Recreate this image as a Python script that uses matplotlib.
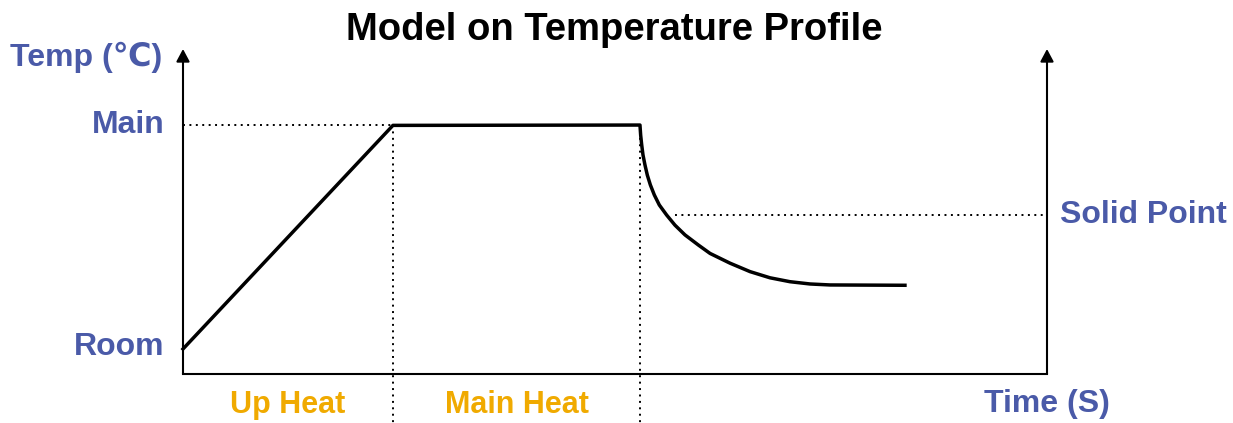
import numpy as np
import matplotlib
matplotlib.use("Agg")
import matplotlib.pyplot as plt

plt.rcParams['font.family'] = ['Liberation Sans', 'DejaVu Sans']

# profile (time: 0..100 axis units, temp: 0..100 axis units)
TIME = [0.0, 24.3, 52.89, 52.97, 53.09, 53.24, 53.47, 53.74, 54.09, 54.55, 55.13, 55.98,
        56.94, 58.10, 59.64, 61.00, 63.31, 65.63, 67.94, 70.25, 72.57, 74.88, 83.56]
TEMP = [7.7, 76.5, 76.6, 73.5, 70.5, 67.4, 64.3, 61.2, 58.2, 55.1, 52.0, 48.9,
        45.8, 42.8, 39.7, 37.1, 34.1, 31.5, 29.6, 28.4, 27.7, 27.4, 27.3]

T_ROOM, T_MAIN, T_SOLID = 7.7, 76.5, 48.9
PHASE_EDGES = [0.0, 24.3, 52.9]
PHASE_NAMES = ["Up Heat", "Main Heat"]
SOLID_START = 56.9

BLUE = "#4a5aa8"
ORANGE = "#f0aa00"
DOT = (0, (1, 2.3))

fig = plt.figure(figsize=(12.33, 4.23), dpi=100)
ax = fig.add_axes([183 / 1233, 49 / 423, 864 / 1233, 325 / 423])
ax.set_xlim(0, 100)
ax.set_ylim(0, 100)
ax.set_xticks([]); ax.set_yticks([])
for s in ["top", "left", "right"]:
    ax.spines[s].set_visible(False)
ax.spines["bottom"].set_linewidth(1.5)

# axes with arrows
for xa in (0, 1):
    ax.annotate("", xy=(xa, 1.0), xytext=(xa, 0.0), xycoords="axes fraction",
                arrowprops=dict(arrowstyle="-|>,head_length=0.75,head_width=0.4",
                                lw=1.5, color="black", shrinkA=0, shrinkB=0),
                annotation_clip=False)

# guide lines
ax.plot([0, PHASE_EDGES[1]], [T_MAIN, T_MAIN], color="black", lw=1.4, ls=DOT)
ax.plot([SOLID_START, 100], [T_SOLID, T_SOLID], color="black", lw=1.4, ls=DOT)
for e in PHASE_EDGES[1:]:
    ax.plot([e, e], [T_MAIN, -15], color="black", lw=1.4, ls=DOT, clip_on=False)

ax.plot(TIME, TEMP, color="black", lw=2.5, solid_joinstyle="round", clip_on=False)

ylab = ax.get_yaxis_transform()
kw = dict(color=BLUE, fontsize=23, fontweight="bold", va="center")
ax.text(-0.021, T_MAIN, "Main", ha="right", transform=ylab, **kw)
ax.text(-0.021, T_ROOM + 0.5, "Room", ha="right", transform=ylab, **kw)
ax.text(1.015, T_SOLID, "Solid Point", ha="left", transform=ylab, **kw)
ax.text(-0.2, 0.975, "Temp (℃)", ha="left", transform=ax.transAxes, **kw)
ax.text(1.0, -0.092, "Time (S)", ha="center", transform=ax.transAxes, **kw)

xlab = ax.get_xaxis_transform()
for a, b, name in zip(PHASE_EDGES[:-1], PHASE_EDGES[1:], PHASE_NAMES):
    ax.text((a + b) / 2, -0.095, name, ha="center", va="center", color=ORANGE,
            fontsize=22, fontweight="bold", transform=xlab)

fig.text(0.498, 0.93, "Model on Temperature Profile", ha="center", va="center",
         fontsize=27.5, fontweight="bold", color="black")

fig.savefig("out.png", dpi=100)
